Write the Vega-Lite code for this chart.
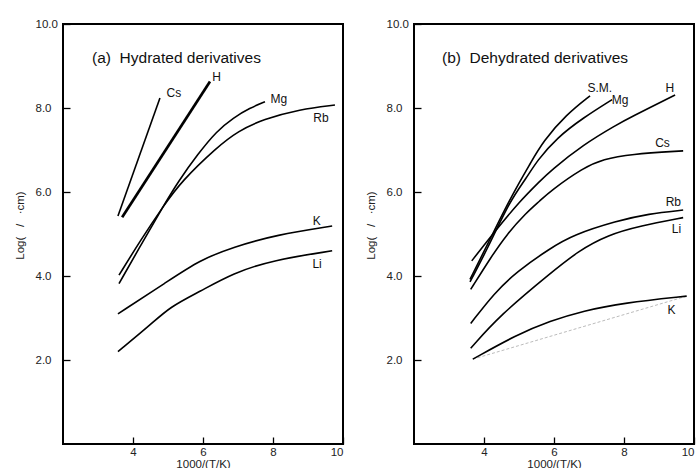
{
  "$schema": "https://vega.github.io/schema/vega-lite/v6.json",
  "padding": {"left": 13, "top": 17, "right": 2, "bottom": 0},
  "background": "white",
  "config": {
    "font": "Liberation Sans",
    "view": {"stroke": "#000", "strokeWidth": 2},
    "axis": {
      "domain": false, "grid": false, "tickColor": "#000", "tickWidth": 1.3,
      "labelFont": "Liberation Sans", "labelFontSize": 11.5, "labelColor": "#222",
      "titleFont": "Liberation Sans", "titleFontSize": 11.5, "titleFontWeight": "normal", "titleColor": "#222"
    },
    "axisY": {"labelAlign": "left", "titlePadding": 10, "titleY": 201},
    "axisX": {"titlePadding": 1}
  },
  "datasets": {
    "a": [
      {"s": "Cs", "x": 3.57, "y": 5.43}, {"s": "Cs", "x": 4.77, "y": 8.24},
      {"s": "H", "x": 3.69, "y": 5.40}, {"s": "H", "x": 6.2, "y": 8.63},
      {"s": "Mg", "x": 3.6, "y": 3.82}, {"s": "Mg", "x": 4.29, "y": 4.83}, {"s": "Mg", "x": 4.87, "y": 5.67}, {"s": "Mg", "x": 5.3, "y": 6.26}, {"s": "Mg", "x": 5.85, "y": 6.9}, {"s": "Mg", "x": 6.39, "y": 7.45}, {"s": "Mg", "x": 6.87, "y": 7.77}, {"s": "Mg", "x": 7.34, "y": 8.0}, {"s": "Mg", "x": 7.77, "y": 8.15},
      {"s": "Rb", "x": 3.6, "y": 4.02}, {"s": "Rb", "x": 4.2, "y": 4.83}, {"s": "Rb", "x": 4.87, "y": 5.67}, {"s": "Rb", "x": 5.39, "y": 6.26}, {"s": "Rb", "x": 6.39, "y": 7.06}, {"s": "Rb", "x": 7.0, "y": 7.45}, {"s": "Rb", "x": 7.72, "y": 7.73}, {"s": "Rb", "x": 8.77, "y": 7.97}, {"s": "Rb", "x": 9.77, "y": 8.07},
      {"s": "K", "x": 3.57, "y": 3.1}, {"s": "K", "x": 4.97, "y": 3.86}, {"s": "K", "x": 5.91, "y": 4.38}, {"s": "K", "x": 6.86, "y": 4.69}, {"s": "K", "x": 8.1, "y": 4.98}, {"s": "K", "x": 9.69, "y": 5.19},
      {"s": "Li", "x": 3.57, "y": 2.2}, {"s": "Li", "x": 4.49, "y": 2.83}, {"s": "Li", "x": 5.06, "y": 3.27}, {"s": "Li", "x": 5.91, "y": 3.63}, {"s": "Li", "x": 6.86, "y": 4.07}, {"s": "Li", "x": 8.0, "y": 4.38}, {"s": "Li", "x": 9.69, "y": 4.6}
    ],
    "b": [
      {"s": "S.M.", "x": 3.6, "y": 3.92}, {"s": "S.M.", "x": 4.1, "y": 4.75}, {"s": "S.M.", "x": 4.6, "y": 5.6}, {"s": "S.M.", "x": 5.03, "y": 6.26}, {"s": "S.M.", "x": 5.31, "y": 6.66}, {"s": "S.M.", "x": 5.69, "y": 7.21}, {"s": "S.M.", "x": 6.36, "y": 7.85}, {"s": "S.M.", "x": 7.03, "y": 8.29},
      {"s": "Mg", "x": 3.6, "y": 3.86}, {"s": "Mg", "x": 4.1, "y": 4.65}, {"s": "Mg", "x": 4.74, "y": 5.79}, {"s": "Mg", "x": 5.22, "y": 6.34}, {"s": "Mg", "x": 5.51, "y": 6.74}, {"s": "Mg", "x": 6.08, "y": 7.29}, {"s": "Mg", "x": 6.84, "y": 7.77}, {"s": "Mg", "x": 7.66, "y": 8.2},
      {"s": "H", "x": 3.65, "y": 4.36}, {"s": "H", "x": 4.3, "y": 5.05}, {"s": "H", "x": 5.03, "y": 5.79}, {"s": "H", "x": 5.6, "y": 6.26}, {"s": "H", "x": 5.89, "y": 6.5}, {"s": "H", "x": 6.84, "y": 7.13}, {"s": "H", "x": 7.79, "y": 7.6}, {"s": "H", "x": 8.17, "y": 7.77}, {"s": "H", "x": 9.46, "y": 8.31},
      {"s": "Cs", "x": 3.62, "y": 3.68}, {"s": "Cs", "x": 4.2, "y": 4.45}, {"s": "Cs", "x": 4.65, "y": 4.99}, {"s": "Cs", "x": 5.2, "y": 5.5}, {"s": "Cs", "x": 5.6, "y": 5.79}, {"s": "Cs", "x": 5.89, "y": 6.02}, {"s": "Cs", "x": 6.84, "y": 6.58}, {"s": "Cs", "x": 7.41, "y": 6.78}, {"s": "Cs", "x": 8.17, "y": 6.9}, {"s": "Cs", "x": 9.69, "y": 6.98},
      {"s": "Rb", "x": 3.62, "y": 2.87}, {"s": "Rb", "x": 4.3, "y": 3.6}, {"s": "Rb", "x": 4.93, "y": 4.1}, {"s": "Rb", "x": 5.89, "y": 4.66}, {"s": "Rb", "x": 6.55, "y": 4.98}, {"s": "Rb", "x": 7.79, "y": 5.31}, {"s": "Rb", "x": 8.7, "y": 5.48}, {"s": "Rb", "x": 9.69, "y": 5.57},
      {"s": "Li", "x": 3.62, "y": 2.28}, {"s": "Li", "x": 4.46, "y": 3.07}, {"s": "Li", "x": 5.89, "y": 4.06}, {"s": "Li", "x": 6.7, "y": 4.6}, {"s": "Li", "x": 7.55, "y": 4.98}, {"s": "Li", "x": 8.46, "y": 5.19}, {"s": "Li", "x": 9.69, "y": 5.39},
      {"s": "K", "x": 3.68, "y": 2.02}, {"s": "K", "x": 4.93, "y": 2.6}, {"s": "K", "x": 5.89, "y": 2.93}, {"s": "K", "x": 6.84, "y": 3.17}, {"s": "K", "x": 7.98, "y": 3.36}, {"s": "K", "x": 9.79, "y": 3.52}
    ],
    "bguide": [
      {"x": 3.68, "y": 2.02}, {"x": 9.79, "y": 3.52}
    ],
    "alab": [
      {"t": "Cs", "x": 5.17, "y": 8.36}, {"t": "H", "x": 6.39, "y": 8.74}, {"t": "Mg", "x": 8.17, "y": 8.21},
      {"t": "Rb", "x": 9.37, "y": 7.77}, {"t": "K", "x": 9.25, "y": 5.32}, {"t": "Li", "x": 9.26, "y": 4.29}
    ],
    "blab": [
      {"t": "S.M.", "x": 7.31, "y": 8.47}, {"t": "Mg", "x": 7.89, "y": 8.18}, {"t": "H", "x": 9.31, "y": 8.48},
      {"t": "Cs", "x": 9.1, "y": 7.17}, {"t": "Rb", "x": 9.41, "y": 5.77}, {"t": "Li", "x": 9.5, "y": 5.11}, {"t": "K", "x": 9.36, "y": 3.19}
    ],
    "atitle": [{"t": "(a)\u00a0 Hydrated derivatives", "x": 2.83, "y": 9.19}],
    "btitle": [{"t": "(b)\u00a0 Dehydrated derivatives", "x": 2.8, "y": 9.19}]
  },
  "spacing": 19,
  "hconcat": [
    {
      "width": 280, "height": 420,
      "resolve": {"axis": {"x": "independent", "y": "independent"}},
      "layer": [
        {
          "data": {"name": "a"},
          "mark": {"type": "line", "interpolate": "basis", "color": "#000"},
          "encoding": {
            "x": {"field": "x", "type": "quantitative", "scale": {"domain": [2, 10], "nice": false, "zero": false}, "axis": {"orient": "bottom", "values": [4, 6, 8, 10], "title": "1000/(T/K)", "ticks": false, "labelPadding": 2}},
            "y": {"field": "y", "type": "quantitative", "scale": {"domain": [0, 10], "nice": false}, "axis": {"orient": "left", "values": [2, 4, 6, 8, 10], "format": ".1f", "title": "Log(\u00a0\u00a0\u00a0/\u00a0\u00a0\u00a0\u00b7cm)", "ticks": false, "labelPadding": 28}},
            "detail": {"field": "s"},
            "strokeWidth": {"condition": {"test": "datum.s === 'H'", "value": 2.7}, "value": 1.6}
          }
        },
        {
          "data": {"name": "alab"},
          "mark": {"type": "text", "fontSize": 12, "color": "#111", "align": "center", "baseline": "middle"},
          "encoding": {
            "x": {"field": "x", "type": "quantitative", "axis": null},
            "y": {"field": "y", "type": "quantitative", "axis": null},
            "text": {"field": "t"}
          }
        },
        {
          "data": {"name": "atitle"},
          "mark": {"type": "text", "fontSize": 15.5, "color": "#111", "align": "left", "baseline": "middle"},
          "encoding": {
            "x": {"field": "x", "type": "quantitative", "axis": {"orient": "bottom", "values": [4, 6, 8, 10], "labels": false, "title": null, "ticks": true, "tickSize": 7, "offset": -7, "zindex": 2}},
            "y": {"field": "y", "type": "quantitative", "axis": {"orient": "left", "values": [2, 4, 6, 8, 10], "labels": false, "title": null, "ticks": true, "tickSize": 7, "offset": -7, "zindex": 2}},
            "text": {"field": "t"}
          }
        }
      ]
    },
    {
      "width": 280, "height": 420,
      "resolve": {"axis": {"x": "independent", "y": "independent"}},
      "layer": [
        {
          "data": {"name": "bguide"},
          "mark": {"type": "line", "color": "#aaa", "strokeWidth": 0.8, "strokeDash": [3, 2]},
          "encoding": {
            "x": {"field": "x", "type": "quantitative", "scale": {"domain": [2, 10], "nice": false, "zero": false}, "axis": {"orient": "bottom", "values": [4, 6, 8, 10], "title": "1000/(T/K)", "ticks": false, "labelPadding": 2}},
            "y": {"field": "y", "type": "quantitative", "scale": {"domain": [0, 10], "nice": false}, "axis": {"orient": "left", "values": [2, 4, 6, 8, 10], "format": ".1f", "title": "Log(\u00a0\u00a0\u00a0/\u00a0\u00a0\u00a0\u00b7cm)", "ticks": false, "labelPadding": 28}}
          }
        },
        {
          "data": {"name": "b"},
          "mark": {"type": "line", "interpolate": "basis", "color": "#000", "strokeWidth": 1.6},
          "encoding": {
            "x": {"field": "x", "type": "quantitative", "axis": null},
            "y": {"field": "y", "type": "quantitative", "axis": null},
            "detail": {"field": "s"}
          }
        },
        {
          "data": {"name": "blab"},
          "mark": {"type": "text", "fontSize": 12, "color": "#111", "align": "center", "baseline": "middle"},
          "encoding": {
            "x": {"field": "x", "type": "quantitative", "axis": null},
            "y": {"field": "y", "type": "quantitative", "axis": null},
            "text": {"field": "t"}
          }
        },
        {
          "data": {"name": "btitle"},
          "mark": {"type": "text", "fontSize": 15.5, "color": "#111", "align": "left", "baseline": "middle"},
          "encoding": {
            "x": {"field": "x", "type": "quantitative", "axis": {"orient": "bottom", "values": [4, 6, 8, 10], "labels": false, "title": null, "ticks": true, "tickSize": 7, "offset": -7, "zindex": 2}},
            "y": {"field": "y", "type": "quantitative", "axis": {"orient": "left", "values": [2, 4, 6, 8, 10], "labels": false, "title": null, "ticks": true, "tickSize": 7, "offset": -7, "zindex": 2}},
            "text": {"field": "t"}
          }
        }
      ]
    }
  ]
}
